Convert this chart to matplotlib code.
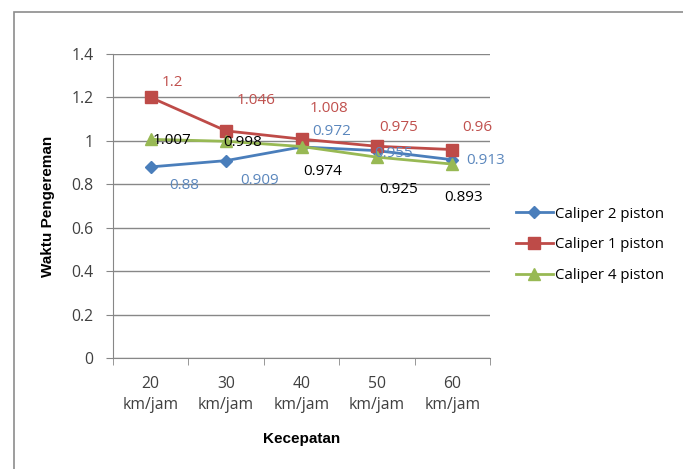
import matplotlib.pyplot as plt
from matplotlib.patches import Rectangle

# braking time per caliper type at each speed
speeds = ["20\nkm/jam", "30\nkm/jam", "40\nkm/jam", "50\nkm/jam", "60\nkm/jam"]
caliper_2 = [0.88, 0.909, 0.972, 0.955, 0.913]
caliper_1 = [1.2, 1.046, 1.008, 0.975, 0.96]
caliper_4 = [1.007, 0.998, 0.974, 0.925, 0.893]
y_ticks = [0, 0.2, 0.4, 0.6, 0.8, 1, 1.2, 1.4]
y_tick_labels = ["0", "0.2", "0.4", "0.6", "0.8", "1", "1.2", "1.4"]

# label offsets in pixels (dx, dy) for each point
off_2 = [(33, -19), (34, -20), (30, 15), (17, -3), (33, -1)]
off_1 = [(22, 15), (30, 30), (27, 31), (22, 19), (25, 22)]
off_4 = [(21, -1), (17, -1), (21, -25), (22, -32), (11, -33)]

BLUE = "#4a7ebb"
RED = "#be4b48"
GREEN = "#98b954"
GRID = "#878787"
TEXT = "#404040"

fig = plt.figure(figsize=(6.83, 4.69), dpi=100)
fig.patches.append(Rectangle((14 / 683, -0.5), 2.0, 0.5 + (469 - 12) / 469,
                             transform=fig.transFigure, fill=False,
                             edgecolor="#8c8c8c", linewidth=1.2))

ax = fig.add_axes([113 / 683, (469 - 358) / 469, (490 - 113) / 683, (358 - 54) / 469])
x = list(range(len(speeds)))

ax.plot(x, caliper_2, color=BLUE, linewidth=2.0, marker="D", markersize=6.5,
        markeredgecolor=BLUE, label="Caliper 2 piston", zorder=3)
ax.plot(x, caliper_1, color=RED, linewidth=2.0, marker="s", markersize=8.5,
        markeredgecolor=RED, label="Caliper 1 piston", zorder=3)
ax.plot(x, caliper_4, color=GREEN, linewidth=2.0, marker="^", markersize=9,
        markeredgecolor=GREEN, label="Caliper 4 piston", zorder=3)

lab_font = dict(fontsize=11, family="Open Sans", ha="center", va="center")
for xi, v, o in zip(x, caliper_2, off_2):
    ax.annotate(f"{v:g}", (xi, v), xytext=o, textcoords="offset pixels",
                color="#5b87bd", zorder=4, **lab_font)
for xi, v, o in zip(x, caliper_1, off_1):
    ax.annotate(f"{v:g}", (xi, v), xytext=o, textcoords="offset pixels",
                color="#c0504d", zorder=4, **lab_font)
for xi, v, o in zip(x, caliper_4, off_4):
    ax.annotate(f"{v:g}", (xi, v), xytext=o, textcoords="offset pixels",
                color="black", zorder=4, **lab_font)

ax.set_xlim(-0.5, len(speeds) - 0.5)
ax.set_ylim(0, 1.4)
ax.set_yticks(y_ticks)
ax.set_yticklabels(y_tick_labels)
ax.set_xticks(x)
ax.set_xticklabels(speeds, linespacing=1.45)
ax.set_xticks([i - 0.5 for i in range(len(speeds) + 1)], minor=True)
ax.tick_params(axis="x", which="major", length=0, pad=13)
ax.tick_params(axis="x", which="minor", length=5, color=GRID, direction="out")
ax.tick_params(axis="y", length=5, color=GRID, pad=9)
for lbl in ax.get_xticklabels() + ax.get_yticklabels():
    lbl.set_fontfamily("Open Sans")
    lbl.set_fontsize(11.3)
    lbl.set_color(TEXT)

ax.grid(axis="y", color=GRID, linewidth=1)
ax.set_axisbelow(True)
for side in ["top", "right"]:
    ax.spines[side].set_visible(False)
for side in ["left", "bottom"]:
    ax.spines[side].set_color(GRID)

ax.set_ylabel("Waktu Pengereman", fontsize=11, fontweight="bold",
              family="Liberation Sans", labelpad=12)
ax.set_xlabel("Kecepatan", fontsize=11, fontweight="bold",
              family="Liberation Sans", labelpad=13)

leg = fig.legend(loc="center left", bbox_to_anchor=(502 / 683, 1 - 245 / 469),
                 frameon=False, handlelength=2.5,
                 labelspacing=1.05, handletextpad=0.15,
                 prop={"family": "Open Sans", "size": 10.8})
for t in leg.get_texts():
    t.set_color("black")

fig.savefig("out.png", dpi=100)
